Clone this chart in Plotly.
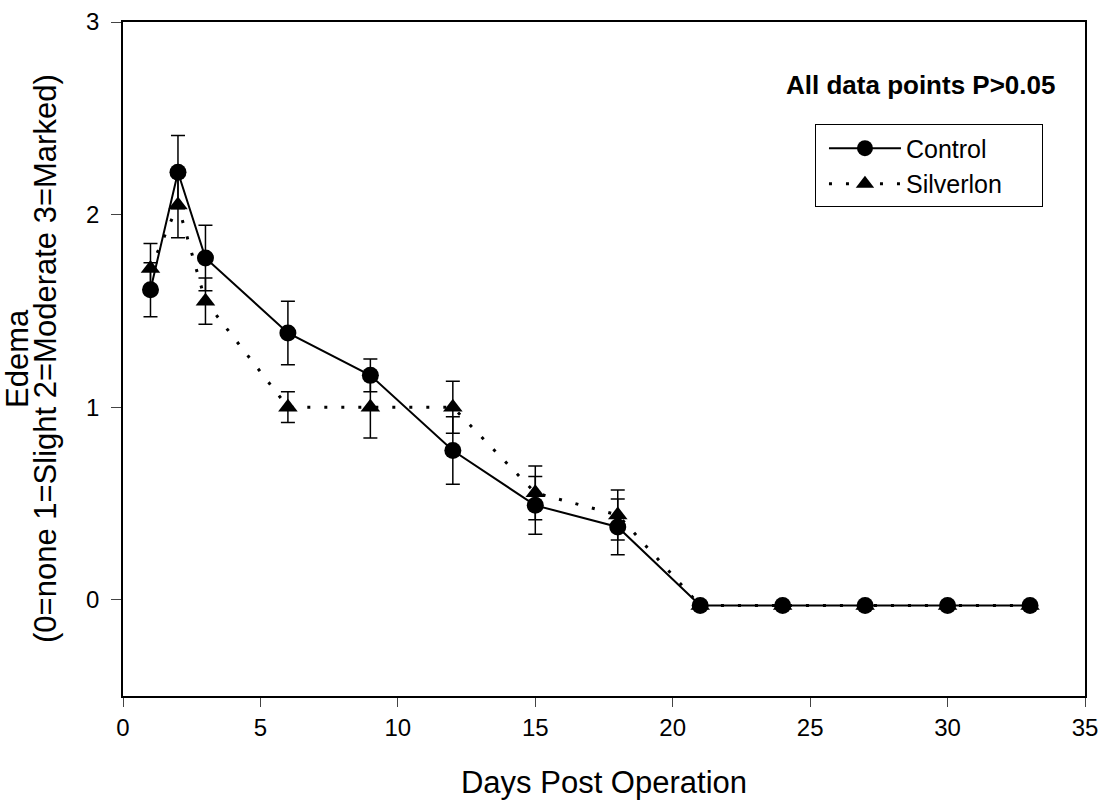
import plotly.graph_objects as go

days = [1, 2, 3, 6, 9, 12, 15, 18, 21, 24, 27, 30, 33]
control = [1.61, 2.22, 1.775, 1.385, 1.165, 0.775, 0.49, 0.378, -0.03, -0.03, -0.03, -0.03, -0.03]
control_err = [0.14, 0.19, 0.17, 0.165, 0.085, 0.175, 0.15, 0.145, 0, 0, 0, 0, 0]
silverlon = [1.72, 2.05, 1.55, 1.0, 1.0, 1.0, 0.555, 0.44, -0.03, -0.03, -0.03, -0.03, -0.03]
silverlon_err = [0.13, 0.17, 0.12, 0.08, 0.16, 0.135, 0.14, 0.13, 0, 0, 0, 0, 0]

x_ticks = [0, 5, 10, 15, 20, 25, 30, 35]
y_ticks = [0, 1, 2, 3]

FONT = "Liberation Sans, Arial, sans-serif"

fig = go.Figure()
fig.add_trace(go.Scatter(
    x=days, y=control, name="Control", mode="lines+markers",
    line=dict(color="black", width=2),
    marker=dict(symbol="circle", size=17, color="black"),
    error_y=dict(type="data", array=control_err, color="black", thickness=1.5, width=7),
))
fig.add_trace(go.Scatter(
    x=days, y=silverlon, name="Silverlon&nbsp;&nbsp;&nbsp;&nbsp;&nbsp;", mode="lines+markers",
    line=dict(color="black", width=3, dash="3px,14px"),
    marker=dict(symbol="triangle-up", size=17, color="black"),
    error_y=dict(type="data", array=silverlon_err, color="black", thickness=1.5, width=7),
))

fig.update_layout(
    width=1105, height=807,
    margin=dict(l=123, r=20, t=22, b=111, autoexpand=False),
    paper_bgcolor="white", plot_bgcolor="white",
    font=dict(family=FONT, color="black"),
    showlegend=True,
    legend=dict(
        x=0.7193, y=0.848, xanchor="left", yanchor="top",
        bordercolor="black", borderwidth=1, bgcolor="white",
        font=dict(size=25, family=FONT), itemwidth=72, indentation=8,
    ),
    xaxis=dict(
        range=[0, 35], tickvals=x_ticks, ticks="outside", ticklen=9, tickwidth=1,
        showline=True, linecolor="black", linewidth=1.5, mirror=True,
        showgrid=False, zeroline=False, tickfont=dict(size=24), automargin=False,
        title=dict(text="Days Post Operation", font=dict(size=31), standoff=32),
    ),
    yaxis=dict(
        range=[-0.5, 3], tickvals=y_ticks, ticks="outside", ticklen=10, tickwidth=1,
        showline=True, linecolor="black", linewidth=1.5, mirror=True,
        showgrid=False, zeroline=False, tickfont=dict(size=24), automargin=False,
        ticklabelstandoff=7,
    ),
    annotations=[
        dict(text="<b>All data points P>0.05</b>", xref="paper", yref="paper",
             x=0.971, y=0.9065, xanchor="right", yanchor="middle", showarrow=False,
             font=dict(size=26, family=FONT)),
        dict(text="Edema", xref="paper", yref="paper", x=0, y=0.5,
             xanchor="center", yanchor="middle", textangle=-90, showarrow=False,
             xshift=-106, font=dict(size=31, family=FONT)),
        dict(text="(0=none 1=Slight 2=Moderate 3=Marked)", xref="paper", yref="paper",
             x=0, y=0.5, xanchor="center", yanchor="middle", textangle=-90,
             showarrow=False, xshift=-78, font=dict(size=31, family=FONT)),
    ],
)

fig.write_html("out.html", config={"displayModeBar": False},
               post_script="document.body.style.margin='0';")
